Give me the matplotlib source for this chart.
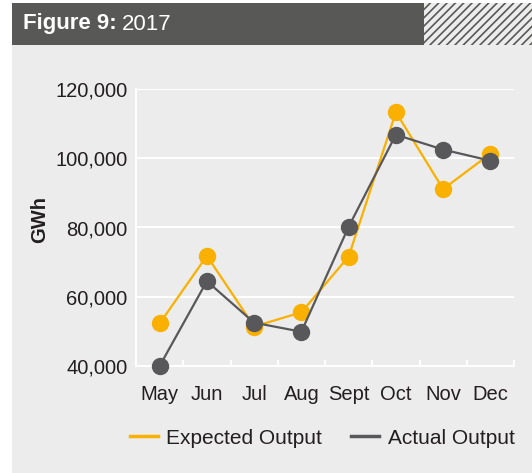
import matplotlib
matplotlib.use("Agg")
import matplotlib.pyplot as plt
from matplotlib.patches import Rectangle
from matplotlib.ticker import FuncFormatter

plt.rcParams['font.family'] = ['Liberation Sans', 'DejaVu Sans']
plt.rcParams['hatch.linewidth'] = 1.2

# data
months = ['May', 'Jun', 'Jul', 'Aug', 'Sept', 'Oct', 'Nov', 'Dec']
expected = [52300, 71800, 51400, 55500, 71600, 113300, 91100, 101300]
actual = [40000, 64500, 52500, 49900, 80200, 106800, 102500, 99300]
yticks = [40000, 60000, 80000, 100000, 120000]

orange = '#f9b000'
grey = '#58585a'
bg = '#ececec'
header = '#585856'
text_col = '#231f20'

W, H = 532, 473
fig = plt.figure(figsize=(W / 100, H / 100), dpi=100)
fig.patch.set_facecolor('white')

# background panel and header bar
fig.patches.append(Rectangle((12 / W, 0), 1 - 12 / W, 1 - 45 / H, transform=fig.transFigure,
                             facecolor=bg, edgecolor='none', zorder=-2))
fig.patches.append(Rectangle((12 / W, 1 - 45 / H), (424 - 12) / W, 42 / H, transform=fig.transFigure,
                             facecolor=header, edgecolor='none', zorder=-2))
fig.patches.append(Rectangle((424 / W, 1 - 45 / H), (W - 424) / W, 42 / H, transform=fig.transFigure,
                             facecolor=bg, edgecolor=header, hatch='////', linewidth=0, zorder=-2))

t1 = fig.text(23 / W, 1 - 24 / H, 'Figure 9:', color='white', fontsize=16, fontweight='bold',
              va='center', ha='left')
fig.canvas.draw()
bb = t1.get_window_extent()
fig.text((bb.x1 + 5) / W, 1 - 24 / H, '2017', color='white', fontsize=16, va='center', ha='left')

ax = fig.add_axes([136 / W, 1 - 366 / H, (514 - 136) / W, (366 - 89) / H])
ax.set_zorder(1)
ax.set_facecolor(bg)

x = list(range(len(months)))
ax.plot(x, expected, color=orange, lw=1.6, marker='o', ms=11.5, clip_on=False, zorder=3,
        label='Expected Output')
ax.plot(x, actual, color=grey, lw=1.6, marker='o', ms=11.5, clip_on=False, zorder=4,
        label='Actual Output')

ax.set_xlim(-0.5, len(months) - 0.5)
ax.set_ylim(40000, 120000)
ax.set_yticks(yticks)
ax.yaxis.set_major_formatter(FuncFormatter(lambda v, p: f'{int(v):,}'))
ax.set_xticks(x)
ax.set_xticklabels(months)
ax.set_xticks([i + 0.5 for i in x], minor=True)

ax.tick_params(axis='both', which='major', length=0, labelsize=14.5, colors=text_col)
ax.tick_params(axis='y', pad=6)
ax.tick_params(axis='x', pad=14)
ax.tick_params(axis='x', which='minor', direction='in', length=4.5, width=1.5, color='white')

ax.grid(axis='y', color='white', lw=1.5, zorder=1)
ax.set_axisbelow(True)
for s in ['top', 'right']:
    ax.spines[s].set_visible(False)
for s in ['left', 'bottom']:
    ax.spines[s].set_color('white')
    ax.spines[s].set_linewidth(1.5)

fig.text(40 / W, 1 - 219 / H, 'GWh', rotation=90, fontsize=14.5, fontweight='bold',
         color=text_col, ha='center', va='center')

labels = ['Expected Output', 'Actual Output']
handles = [plt.Line2D([], [], color=orange, lw=2.5), plt.Line2D([], [], color=grey, lw=2.5)]
fig.legend(handles, labels, loc='center', bbox_to_anchor=(322 / W, 1 - 438 / H), ncol=2,
           frameon=False, fontsize=15, handlelength=1.35, handletextpad=0.4, columnspacing=1.4,
           labelcolor=text_col)

fig.savefig('out.png', dpi=100, facecolor=fig.get_facecolor())
